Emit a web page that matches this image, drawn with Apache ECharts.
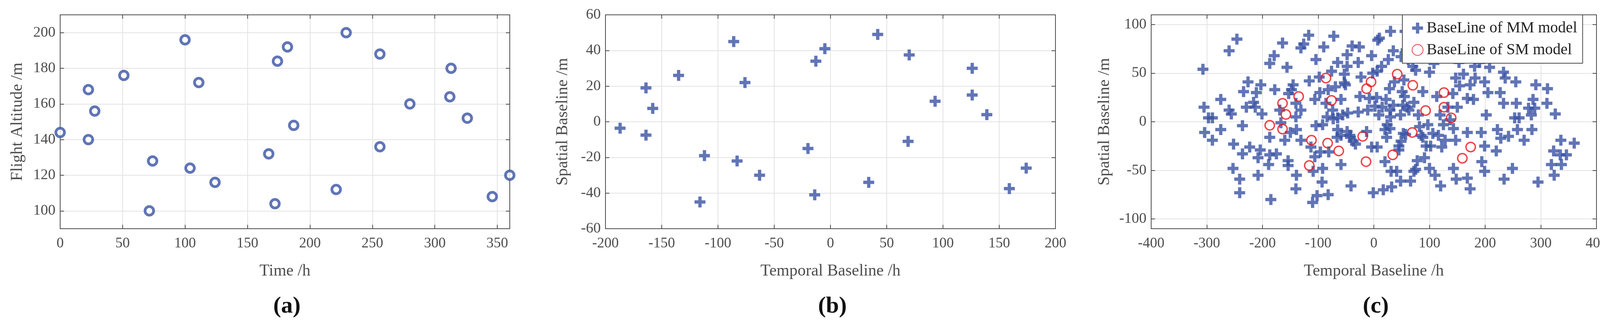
<!DOCTYPE html>
<html><head><meta charset="utf-8">
<script src="https://cdn.jsdelivr.net/npm/echarts@6/dist/echarts.min.js"></script>
<style>html,body{margin:0;background:#fff;overflow:hidden}#c{width:4131px;height:843px}</style>
</head><body><div id="c"></div>
<script>
// Panel (a): time (h) vs flight altitude (m)
const timeH = [0,22.6,22.6,27.7,51,71.4,74,100,104,111,124,167,172,174,182,187,221,229,256,256,280,312,313,326,346,360];
const altitude = [144,168,140,156,176,100,128,196,124,172,116,132,104,184,192,148,112,200,188,136,160,164,180,152,108,120];
// Panel (b) / SM model: temporal vs spatial baseline
const smT = [-187,-164,-164,-158,-135,-112,-116,-86,-83,-76,-63,-20,-13,-14,-5,34,42,70,69,93,126,126,139,159,174];
const smS = [-3.6,19,-7.5,7.5,26,-19,-45,45,-22,22,-30,-15,34,-41,41,-34,49,37.5,-11,11.5,15,30,4,-37.5,-26];
// Panel (c) MM model
const mmT = [-307,-305,-304,-297,-290,-290,-275,-275,-260,-260,-256,-252,-253,-246,-241,-241,-236,-236,-234,-226,-229,-223,-216,-211,-213,-208,-208,-204,-203,-201,-187,-187,-187,-189,-185,-179,-178,-175,-169,-167,-164,-160,-156,-154,-154,-153,-150,-148,-145,-140,-140,-139,-139,-140,-131,-131,-131,-126,-117,-116,-113,-109,-110,-106,-104,-104,-106,-102,-97,-98,-96,-92,-92,-93,-90,-86,-84,-82,-81,-82,-76,-74,-73,-72,-69,-65,-65,-65,-59,-59,-59,-56,-53,-53,-51,-48,-48,-48,-47,-43,-41,-39,-37,-33,-28,-26,-28,-25,-23,-13,-11,-8,-4,-2,-4,-1,2,5,6,9,6,7,10,14,15,17,20,20,22,24,26,28,29,30,30,31,32,35,35,37,41,45,48,49,49,51,52,53,54,56,55,58,60,62,63,66,48,70,72,75,77,80,75,78,85,88,91,94,97,100,102,100,108,106,110,113,119,120,122,125,130,133,137,142,143,143,147,148,150,153,154,161,168,168,168,173,173,179,181,182,190,193,194,199,199,199,202,205,208,220,222,227,228,233,233,234,236,242,249,253,255,256,258,261,270,278,283,284,286,289,291,295,312,311,319,323,324,326,335,336,337,346,360,-42,-66,29,23,45,82,116,128,147,88,57,72];
const mmS = [54,15,-11,4,4,-19,23,-8,73,12,8,-23,-48,85,-59,-73,-4,-33,31,41,15,-26,20,30,15,-55,-37,-29,38,8,60,-16,-34,-44,-80,68,33,-33,12,-1,81,-19,56,-40,-45,29,-11,33,38,19,5,-8,-55,-69,12,-19,76,80,89,42,-26,-51,-83,23,64,-4,-36,-76,30,46,-31,-3,-48,-62,77,19,5,33,-31,-75,52,12,3,88,36,61,-8,4,-14,23,-44,7,49,40,38,69,57,-10,9,-14,-66,78,-20,-23,10,77,61,26,46,-10,12,24,68,50,-26,-73,16,25,52,7,-26,84,86,57,15,-70,-8,-41,23,-3,64,34,12,5,93,-51,-67,73,17,41,-51,-25,7,-20,67,31,17,-12,43,93,26,74,15,64,12,-61,-61,57,20,53,67,7,-49,-40,-14,31,-37,-25,-3,51,-25,-48,60,-12,-55,26,7,-66,-26,-3,69,15,2,29,-7,-48,45,-59,15,61,37,49,24,-11,-58,-69,38,23,57,45,61,-11,-41,41,-25,-51,7,30,56,-30,-8,30,-17,51,19,-59,45,-15,-48,4,41,19,-8,4,-19,14,7,-8,23,14,38,-62,34,19,-44,-30,-55,8,-34,-19,-44,-34,-22,-16,-16,-7,-16,-29,-5,-14,-19,-19,-16,-13,-51];

const zip = (a,b)=>a.map((v,i)=>[v,b[i]]);
const BLUE='#3A53A4', RED='#E8141C', AX='#4d4d4d';
const FONT='Liberation Serif';
const PLUS='path://M35,0H65V35H100V65H65V100H35V65H0V35H35Z';

const panels=[
 {left:154,width:1151,xmin:0,xmax:360,xlab:[0,50,100,150,200,250,300,350],ymin:90,ymax:210,ylab:[100,120,140,160,180,200],xname:'Time /h',yname:'Flight Altitude /m',tag:'(a)'},
 {left:1550,width:1152,xmin:-200,xmax:200,xlab:[-200,-150,-100,-50,0,50,100,150,200],ymin:-60,ymax:60,ylab:[-60,-40,-20,0,20,40,60],xname:'Temporal Baseline /h',yname:'Spatial Baseline /m',tag:'(b)'},
 {left:2947,width:1140,xmin:-400,xmax:400,xlab:[-400,-300,-200,-100,0,100,200,300,400],ymin:-110,ymax:110,ylab:[-100,-50,0,50,100],xname:'Temporal Baseline /h',yname:'Spatial Baseline /m',tag:'(c)'}
];
const grid=[],xAxis=[],yAxis=[],title=[];
const line={show:true,onZero:false,lineStyle:{color:AX,width:2}};
const tick=v=>({show:true,inside:true,length:10,lineStyle:{color:AX,width:2},customValues:v});
panels.forEach((p,i)=>{
  grid.push({left:p.left,width:p.width,top:38,height:548});
  const base={min:p.xmin,max:p.xmax,gridIndex:i};
  xAxis.push({type:'value',...base,position:'bottom',axisLine:line,axisTick:tick(p.xlab),
    axisLabel:{customValues:p.xlab,color:AX,fontFamily:FONT,fontSize:37,margin:20,hideOverlap:false},
    splitLine:{show:true,lineStyle:{color:'#e3e3e3',width:2}},
    name:p.xname,nameLocation:'middle',nameGap:88,nameTextStyle:{color:AX,fontFamily:FONT,fontSize:42}});
  xAxis.push({type:'value',...base,position:'top',axisLine:line,axisTick:tick(p.xlab),
    axisLabel:{show:false},splitLine:{show:false}});
  const yb={min:p.ymin,max:p.ymax,gridIndex:i};
  yAxis.push({type:'value',...yb,position:'left',axisLine:line,axisTick:tick(p.ylab),
    axisLabel:{customValues:p.ylab,color:AX,fontFamily:FONT,fontSize:38,margin:12},
    splitLine:{show:true,lineStyle:{color:'#e3e3e3',width:2}},
    name:p.yname,nameLocation:'middle',nameGap:i===2?98:88,nameTextStyle:{color:AX,fontFamily:FONT,fontSize:42}});
  yAxis.push({type:'value',...yb,position:'right',axisLine:line,axisTick:tick(p.ylab),
    axisLabel:{show:false},splitLine:{show:false}});
  title.push({text:p.tag,left:p.left+p.width/2,top:750,textAlign:'center',
    textStyle:{fontFamily:FONT,fontSize:60,fontWeight:'bold',color:'#111'}});
});
const option={
 animation:false,title,grid,xAxis,yAxis,
 legend:{show:true,left:3590,top:38,orient:'vertical',backgroundColor:'#fff',borderColor:AX,borderWidth:2,
   padding:[14,14,14,24],itemGap:16,itemWidth:36,itemHeight:28,
   textStyle:{fontFamily:FONT,fontSize:40,color:'#222'},data:['BaseLine of MM model','BaseLine of SM model']},
 series:[
  {type:'scatter',xAxisIndex:0,yAxisIndex:0,data:zip(timeH,altitude),symbol:'circle',symbolSize:22,
   itemStyle:{color:'#fff',borderColor:BLUE,borderWidth:7}},
  {type:'scatter',xAxisIndex:2,yAxisIndex:2,data:zip(smT,smS),symbol:PLUS,symbolSize:28,itemStyle:{color:BLUE}},
  {name:'BaseLine of MM model',type:'scatter',xAxisIndex:4,yAxisIndex:4,data:zip(mmT,mmS),symbol:PLUS,symbolSize:28,itemStyle:{color:BLUE}},
  {name:'BaseLine of SM model',type:'scatter',xAxisIndex:4,yAxisIndex:4,data:zip(smT,smS),symbol:'circle',symbolSize:24,
   itemStyle:{color:'transparent',borderColor:RED,borderWidth:3.5}}
 ]
};
echarts.init(document.getElementById('c')).setOption(option);
</script></body></html>
